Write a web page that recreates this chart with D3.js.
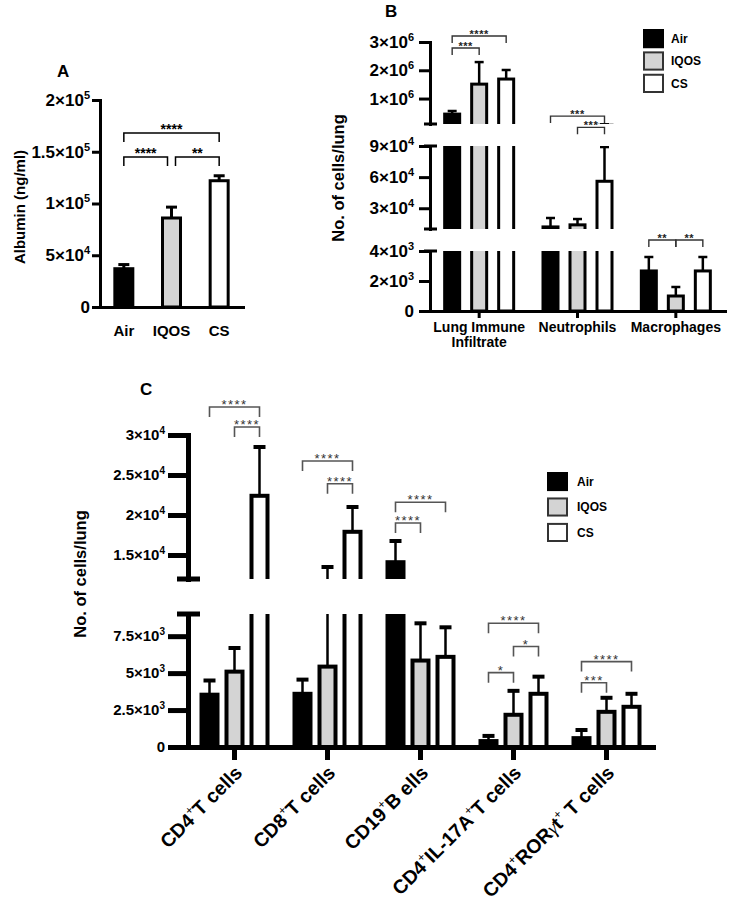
<!DOCTYPE html>
<html>
<head>
<meta charset="utf-8">
<script src="https://cdn.jsdelivr.net/npm/d3@7"></script>
<style>
  body { margin: 0; background: #fff; }
  svg { display: block; }
</style>
</head>
<body>
<script>
// ---------------- DATA ----------------
const series = ["Air", "IQOS", "CS"];

// Panel A: albumin
const albuminGroups = ["Air", "IQOS", "CS"];
const albuminMean = [37000, 86000, 122000];
const albuminErr = [4000, 10500, 4800];
const albuminTicks = [0, 50000, 100000, 150000, 200000];
const albuminSig = [
  ["Air", "CS", "****", 168000],
  ["Air", "IQOS", "****", 145000],
  ["IQOS", "CS", "**", 145000]
];

// Panel B: lung cells (broken axis)
const lungGroups = ["Lung Immune Infiltrate", "Neutrophils", "Macrophages"];
const lungAir = [450000, 12000, 2670];
const lungIQOS = [1510000, 14000, 1000];
const lungCS = [1690000, 56000, 2670];
const lungAirErr = [110000, 8600, 930];
const lungIQOSErr = [780000, 5600, 600];
const lungCSErr = [320000, 33000, 930];
const lungSegments = [[0, 4000], [10000, 90000], [100000, 3000000]];
const lungTicks = [[0, 2000, 4000], [30000, 60000, 90000], [1000000, 2000000, 3000000]];
// [group, from, to, label, segment, value]
const lungSig = [
  ["Lung Immune Infiltrate", "Air", "CS", "****", 2, 3210000],
  ["Lung Immune Infiltrate", "Air", "IQOS", "***", 2, 2790000],
  ["Neutrophils", "Air", "CS", "***", 2, 380000],
  ["Neutrophils", "IQOS", "CS", "***", 1, 108000],
  ["Macrophages", "Air", "IQOS", "**", 0, 4730],
  ["Macrophages", "IQOS", "CS", "**", 0, 4730]
];

// Panel C: T / B cells (broken axis)
const cellGroups = ["CD4⁺T cells", "CD8⁺T cells", "CD19⁺B ells", "CD4⁺IL-17A⁺T cells", "CD4⁺RORγt⁺ T cells"];
const cellAir = [3540, 3600, 14100, 400, 600];
const cellIQOS = [5100, 5440, 5850, 2180, 2380];
const cellCS = [22400, 17900, 6100, 3600, 2720];
const cellAirErr = [960, 960, 2650, 350, 550];
const cellIQOSErr = [1600, 8060, 2520, 1620, 950];
const cellCSErr = [6100, 3100, 2000, 1160, 880];
const cellSegments = [[0, 9000], [12000, 30000]];
const cellTicks = [[0, 2500, 5000, 7500], [15000, 20000, 25000, 30000]];
const cellSig = [
  ["CD4⁺T cells", "Air", "CS", "****", 1, 33500],
  ["CD4⁺T cells", "IQOS", "CS", "****", 1, 31000],
  ["CD8⁺T cells", "Air", "CS", "****", 1, 26750],
  ["CD8⁺T cells", "IQOS", "CS", "****", 1, 23900],
  ["CD19⁺B ells", "Air", "CS", "****", 1, 21600],
  ["CD19⁺B ells", "Air", "IQOS", "****", 1, 19000],
  ["CD4⁺IL-17A⁺T cells", "Air", "CS", "****", 0, 8370],
  ["CD4⁺IL-17A⁺T cells", "IQOS", "CS", "*", 0, 6800],
  ["CD4⁺IL-17A⁺T cells", "Air", "IQOS", "*", 0, 5030],
  ["CD4⁺RORγt⁺ T cells", "Air", "CS", "****", 0, 5780],
  ["CD4⁺RORγt⁺ T cells", "Air", "IQOS", "***", 0, 4350]
];

// ---------------- SETUP ----------------
const W = 740, H = 901;
const FONT = "'Liberation Sans', Arial, Helvetica, sans-serif";
const color = d3.scaleOrdinal().domain(series).range(["#000000", "#d4d4d4", "#ffffff"]);

const svg = d3.select("body").append("svg")
  .attr("width", W).attr("height", H)
  .style("font-family", FONT);
svg.append("rect").attr("width", W).attr("height", H).attr("fill", "#ffffff");
const defs = svg.append("defs");

function sciLabel(node, d, supFs, supShift) {
  const t = d3.select(node).text(null);
  if (d === 0) { t.text("0"); return; }
  const e = Math.floor(Math.log10(d) + 1e-9);
  const m = +(d / Math.pow(10, e)).toFixed(2);
  t.append("tspan").text(m + "×10");
  t.append("tspan").attr("font-size", supFs).attr("dy", -supShift).text(e);
}

function yAxis(g, x, segs, st) {
  segs.forEach((s, i) => {
    const a = g.append("g").attr("transform", `translate(${x},0)`)
      .call(d3.axisLeft(s.scale).tickValues(s.ticks).tickSize(st.tick).tickSizeOuter(0).tickPadding(st.pad));
    a.select(".domain").attr("stroke", "#000").attr("stroke-width", st.sw).attr("stroke-linecap", "square");
    a.selectAll(".tick line").attr("stroke", "#000").attr("stroke-width", st.sw);
    a.selectAll(".tick text").attr("font-size", st.fs).attr("font-weight", "bold").attr("fill", "#000")
      .attr("font-family", FONT)
      .each(function (d) { sciLabel(this, d, st.supFs, st.supShift); });
    const [r0, r1] = s.scale.range();
    const ends = [];
    if (i > 0) ends.push(r0);
    if (i < segs.length - 1) ends.push(r1);
    ends.forEach(y => g.append("line")
      .attr("x1", x - st.capL).attr("x2", x + st.capR).attr("y1", y).attr("y2", y)
      .attr("stroke", "#000").attr("stroke-width", st.sw));
  });
}

function drawBars(g, segs, bars, st, id) {
  segs.forEach((s, i) => {
    const [r0, r1] = s.scale.range();
    const top = i === segs.length - 1 ? r1 - 30 : r1;
    const bot = i === 0 ? r0 + st.sw : r0;
    const cid = `${id}-seg${i}`;
    defs.append("clipPath").attr("id", cid).append("rect")
      .attr("x", 0).attr("y", top).attr("width", W).attr("height", bot - top);
    const layer = g.append("g").attr("clip-path", `url(#${cid})`);
    const base = i === 0 ? s.scale(s.scale.domain()[0]) : r0 + 30;
    bars.forEach(b => {
      const yv = s.scale(b.v);
      if (yv >= base) return;
      layer.append("rect")
        .attr("x", b.x - b.w / 2 + st.sw / 2).attr("width", b.w - st.sw)
        .attr("y", yv).attr("height", base - yv)
        .attr("fill", b.fill).attr("stroke", "#000").attr("stroke-width", st.sw);
    });
    bars.forEach(b => {
      const y1 = s.scale(b.v), y2 = s.scale(b.v + b.e);
      layer.append("line").attr("x1", b.x).attr("x2", b.x).attr("y1", y1).attr("y2", y2)
        .attr("stroke", "#000").attr("stroke-width", st.esw);
      layer.append("line").attr("x1", b.x - st.cap / 2).attr("x2", b.x + st.cap / 2).attr("y1", y2).attr("y2", y2)
        .attr("stroke", "#000").attr("stroke-width", st.csw);
    });
  });
}

function drawSig(g, items, st) {
  items.forEach(it => {
    let x1 = it.x1, x2 = it.x2;
    if (st.inset) {
      items.forEach(o => {
        if (o === it || o.y !== it.y) return;
        if (o.x2 === it.x1) x1 += st.inset;
        if (o.x1 === it.x2) x2 -= st.inset;
      });
    }
    g.append("path")
      .attr("d", `M${x1},${it.y + st.tip}V${it.y}H${x2}V${it.y + st.tip}`)
      .attr("fill", "none").attr("stroke", st.color).attr("stroke-width", st.sw);
    g.append("text").attr("x", (x1 + x2) / 2).attr("y", it.y + st.dy)
      .attr("text-anchor", "middle").attr("font-size", st.fs).attr("font-weight", st.fw)
      .attr("letter-spacing", st.ls).attr("fill", st.tcolor).text(it.label);
  });
}

function legend(g, x, range, st) {
  const ly = d3.scaleBand().domain(series).range(range).paddingInner(st.pad);
  series.forEach(s => {
    g.append("rect").attr("x", x + st.sw / 2).attr("y", ly(s) + st.sw / 2)
      .attr("width", st.w - st.sw).attr("height", ly.bandwidth() - st.sw)
      .attr("fill", color(s)).attr("stroke", s === "Air" ? "#000" : "#333").attr("stroke-width", st.sw);
    g.append("text").attr("x", x + st.w + st.gap).attr("y", ly(s) + ly.bandwidth() / 2).attr("dy", "0.36em")
      .attr("font-size", st.fs).attr("font-weight", "bold").attr("fill", "#000").text(s);
  });
}

function yTitle(g, x, y, fs, txt) {
  g.append("text").attr("transform", `translate(${x},${y}) rotate(-90)`)
    .attr("text-anchor", "middle").attr("font-size", fs).attr("font-weight", "bold").attr("fill", "#000").text(txt);
}

function panelLetter(g, x, y, t) {
  g.append("text").attr("x", x).attr("y", y).attr("font-size", 17).attr("font-weight", "bold").attr("fill", "#000").text(t);
}

// ---------------- PANEL A ----------------
{
  const g = svg.append("g");
  const y = d3.scaleLinear().domain([0, 200000]).range([307, 100]);
  const x = d3.scaleBand().domain(albuminGroups).range([100, 243]).padding(0);
  const bars = albuminGroups.map((c, i) => ({
    x: x(c) + x.bandwidth() / 2, w: 21, v: albuminMean[i], e: albuminErr[i], fill: color(c)
  }));
  drawBars(g, [{ scale: y }], bars, { sw: 3, esw: 3, csw: 3, cap: 11 }, "pa");
  yAxis(g, 100, [{ scale: y, ticks: albuminTicks }],
    { tick: 8, pad: 2, sw: 3, fs: 17, supFs: 11, supShift: 7, capL: 0, capR: 0 });
  const xa = g.append("g").attr("transform", "translate(0,307)")
    .call(d3.axisBottom(x).tickSize(0).tickSizeOuter(0).tickPadding(18));
  xa.select(".domain").attr("stroke", "#000").attr("stroke-width", 3).attr("stroke-linecap", "square");
  xa.selectAll(".tick text").attr("font-size", 15).attr("font-weight", "bold").attr("fill", "#000").attr("font-family", FONT);
  const cx = c => x(c) + x.bandwidth() / 2;
  drawSig(g, albuminSig.map(s => ({ x1: cx(s[0]), x2: cx(s[1]), label: s[2], y: y(s[3]) })),
    { tip: 9, sw: 1.5, color: "#000", tcolor: "#000", fs: 14, fw: "bold", ls: 0, dy: 1, inset: 4 });
  yTitle(g, 25, 207, 15, "Albumin (ng/ml)");
  panelLetter(g, 57, 77, "A");
}

// ---------------- PANEL B ----------------
{
  const g = svg.append("g");
  const ranges = [[311, 251], [229, 146], [124, 42]];
  const segs = lungSegments.map((d, i) => ({ scale: d3.scaleLinear().domain(d).range(ranges[i]), ticks: lungTicks[i] }));
  const x = d3.scaleBand().domain(lungGroups).range([430, 725]).padding(0);
  const xs = d3.scalePoint().domain(series).range([-27, 27]);
  const vals = { Air: lungAir, IQOS: lungIQOS, CS: lungCS };
  const errs = { Air: lungAirErr, IQOS: lungIQOSErr, CS: lungCSErr };
  const cx = (grp, s) => x(grp) + x.bandwidth() / 2 + xs(s);
  const bars = [];
  lungGroups.forEach((c, i) => series.forEach(s => bars.push({
    x: cx(c, s), w: 18, v: vals[s][i], e: errs[s][i], fill: color(s)
  })));
  drawBars(g, segs, bars, { sw: 3, esw: 2.5, csw: 2.5, cap: 9 }, "pb");
  yAxis(g, 430, segs, { tick: 11, pad: 5, sw: 3, fs: 17, supFs: 11, supShift: 7, capL: 6, capR: 7 });
  const xa = g.append("g").attr("transform", "translate(0,311)")
    .call(d3.axisBottom(x).tickSize(7).tickSizeOuter(0).tickPadding(0));
  xa.select(".domain").attr("stroke", "#000").attr("stroke-width", 3).attr("stroke-linecap", "square");
  xa.selectAll(".tick line").attr("stroke", "#000").attr("stroke-width", 3);
  xa.selectAll(".tick text").attr("font-size", 14).attr("font-weight", "bold").attr("fill", "#000")
    .attr("font-family", FONT).attr("y", 21).attr("dy", 0)
    .each(function (d) {
      const t = d3.select(this);
      const words = d.split(" ");
      if (words.length > 2) {
        t.text(null);
        t.append("tspan").attr("x", 0).text(words.slice(0, 2).join(" "));
        t.append("tspan").attr("x", 0).attr("dy", 15).text(words.slice(2).join(" "));
      }
    });
  drawSig(g, lungSig.map(s => ({ x1: cx(s[0], s[1]), x2: cx(s[0], s[2]), label: s[3], y: segs[s[4]].scale(s[5]) })),
    { tip: 7, sw: 1.4, color: "#333", tcolor: "#222", fs: 11, fw: "bold", ls: 0.5, dy: 2, inset: 0 });
  legend(g, 643, [29, 93], { pad: 0.14, w: 21, sw: 2, gap: 7, fs: 12 });
  yTitle(g, 344, 178, 16.5, "No. of cells/lung");
  panelLetter(g, 385, 17, "B");
}

// ---------------- PANEL C ----------------
{
  const g = svg.append("g");
  const ranges = [[747, 614], [579, 435]];
  const segs = cellSegments.map((d, i) => ({ scale: d3.scaleLinear().domain(d).range(ranges[i]), ticks: cellTicks[i] }));
  const x = d3.scaleBand().domain(cellGroups).range([188, 653]).padding(0);
  const xs = d3.scalePoint().domain(series).range([-25, 25]);
  const vals = { Air: cellAir, IQOS: cellIQOS, CS: cellCS };
  const errs = { Air: cellAirErr, IQOS: cellIQOSErr, CS: cellCSErr };
  const cx = (grp, s) => x(grp) + x.bandwidth() / 2 + xs(s);
  const bars = [];
  cellGroups.forEach((c, i) => series.forEach(s => bars.push({
    x: cx(c, s), w: 20, v: vals[s][i], e: errs[s][i], fill: color(s)
  })));
  drawBars(g, segs, bars, { sw: 4, esw: 2.5, csw: 4, cap: 12 }, "pc");
  yAxis(g, 188, segs, { tick: 20, pad: 3, sw: 5, fs: 15, supFs: 10, supShift: 6, capL: 11, capR: 12 });
  const xa = g.append("g").attr("transform", "translate(0,747)")
    .call(d3.axisBottom(x).tickSize(13).tickSizeOuter(0).tickPadding(0));
  xa.select(".domain").attr("stroke", "#000").attr("stroke-width", 5).attr("stroke-linecap", "square");
  xa.selectAll(".tick line").attr("stroke", "#000").attr("stroke-width", 5);
  const fs = 19.5;
  xa.selectAll(".tick text").attr("font-size", fs).attr("font-weight", "bold").attr("fill", "#000")
    .attr("font-family", FONT).attr("text-anchor", "end").attr("y", null).attr("dy", null)
    .attr("transform", "translate(9,27) rotate(-45)")
    .each(function (d) {
      const t = d3.select(this).text(null);
      const parts = d.split("⁺");
      let pending = 0;
      parts.forEach((p, i) => {
        p.split(/(γ)/).forEach(q => {
          if (!q) return;
          const sp = t.append("tspan").text(q);
          if (pending) { sp.attr("dy", pending); pending = 0; }
          if (q === "γ") sp.attr("font-family", "'Liberation Serif', serif").attr("font-weight", "normal").attr("font-style", "italic");
        });
        if (i < parts.length - 1) {
          t.append("tspan").attr("font-size", fs * 0.6).attr("font-weight", "normal").attr("dy", -fs * 0.45).text("+");
          pending = fs * 0.45;
        }
      });
    });
  drawSig(g, cellSig.map(s => ({ x1: cx(s[0], s[1]), x2: cx(s[0], s[2]), label: s[3], y: segs[s[4]].scale(s[5]) })),
    { tip: 10, sw: 1.6, color: "#555", tcolor: "#333", fs: 13, fw: "normal", ls: 1.5, dy: 2, inset: 0 });
  legend(g, 547, [472, 542], { pad: 0.25, w: 21, sw: 2, gap: 9, fs: 12 });
  yTitle(g, 86, 574, 16.5, "No. of cells/lung");
  panelLetter(g, 140, 395, "C");
}
</script>
</body>
</html>
